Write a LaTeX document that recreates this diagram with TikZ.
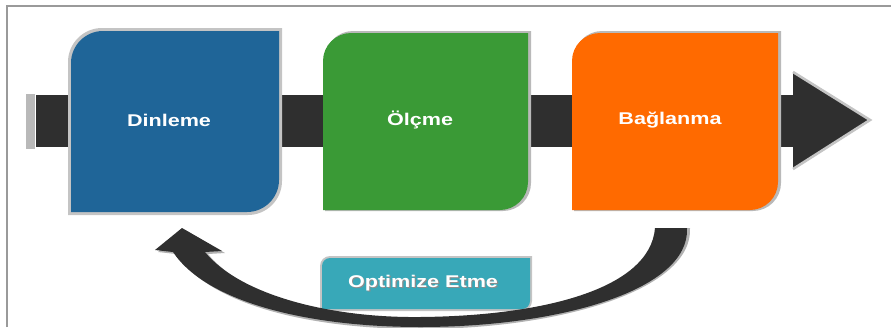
\documentclass[tikz,border=0pt]{standalone}
\usepackage{fontspec}
\setmainfont{Liberation Sans}
\definecolor{cblue}{HTML}{1F6598}
\definecolor{cgreen}{HTML}{3A9A36}
\definecolor{corange}{HTML}{FF6A00}
\definecolor{cteal}{HTML}{38A8B8}
\definecolor{cdark}{HTML}{2F2F2F}
\definecolor{cframe}{HTML}{9A9A9A}
\definecolor{cedge}{HTML}{C4C4C4}
\tikzset{
  lbl/.style={text=white, font=\fontsize{17}{20}\selectfont\bfseries, inner sep=0pt},
  lblshadow/.style={text=black!45, font=\fontsize{17}{20}\selectfont\bfseries, inner sep=0pt},
}
\newcommand{\wide}[1]{\scalebox{1.27}[1]{#1}}
% stage box: x1 y1 x2 y2 radius
\newcommand{\stagepath}[5]{(#1,#4) -- (#1,#2+#5) .. controls (#1,#2+0.45*#5) and (#1+0.45*#5,#2) .. (#1+#5,#2) -- (#3,#2) -- (#3,#4-#5) .. controls (#3,#4-0.45*#5) and (#3-0.45*#5,#4) .. (#3-#5,#4) -- cycle}
\begin{document}
\begin{tikzpicture}[x=1pt,y=-1pt]
\useasboundingbox (0,0) rectangle (891,327);
% frame
\draw[cframe, line width=1.3pt] (7,327) -- (7,6) -- (891,6);
% band
\fill[gray!55] (26,94) rectangle (35,149);
\fill[cdark] (36,95) rectangle (796,147);
\draw[cedge, line width=2.6pt, line join=miter, fill=cdark] (793,72) -- (870,120) -- (793,169);
\fill[cdark] (780,95) rectangle (794,147);
% stage boxes
\fill[cedge] \stagepath{68}{28}{282}{215}{34};
\fill[cblue] \stagepath{71}{31}{279}{212}{32};
\fill[gray!55] \stagepath{325}{31}{531}{211}{28};
\fill[cgreen] \stagepath{323}{33}{528}{210}{28};
\fill[gray!55] \stagepath{574}{31}{781}{211}{28};
\fill[corange] \stagepath{572}{33}{778}{210}{28};
\node[lbl] (dinleme) at (169,120) {\wide{Dinleme}};
\node[lbl] (olcme) at (420,120) {\wide{Ölçme}};
\node[lbl] (baglanma) at (670,120) {\wide{Bağlanma}};
% optimize box
\fill[cedge] \stagepath{320}{256}{532}{311}{10};
\fill[cteal] \stagepath{322}{258}{530}{309}{8};
\node[lblshadow] at (424.2,284.2) {\wide{Optimize Etme}};
\node[lbl] (optimize) at (423,283) {\wide{Optimize Etme}};
% return arrow
\fill[black!30] (690,228) .. controls (693,290) and (560,329) .. (420,329) .. controls (310,329) and (210,305) .. (176,254) -- (158,252) -- (185,230) -- (225,253) -- (208,254) .. controls (243,297) and (330,320) .. (420,319) .. controls (540,318) and (652,290) .. (658,228) -- cycle;
\fill[cdark] (687,228) .. controls (690,290) and (560,327) .. (420,327) .. controls (310,327) and (207,303) .. (173,252) -- (155,250) -- (182,228) -- (222,251) -- (205,252) .. controls (240,295) and (330,318) .. (420,317) .. controls (540,316) and (650,290) .. (655,228) -- cycle;
\end{tikzpicture}
\end{document}
